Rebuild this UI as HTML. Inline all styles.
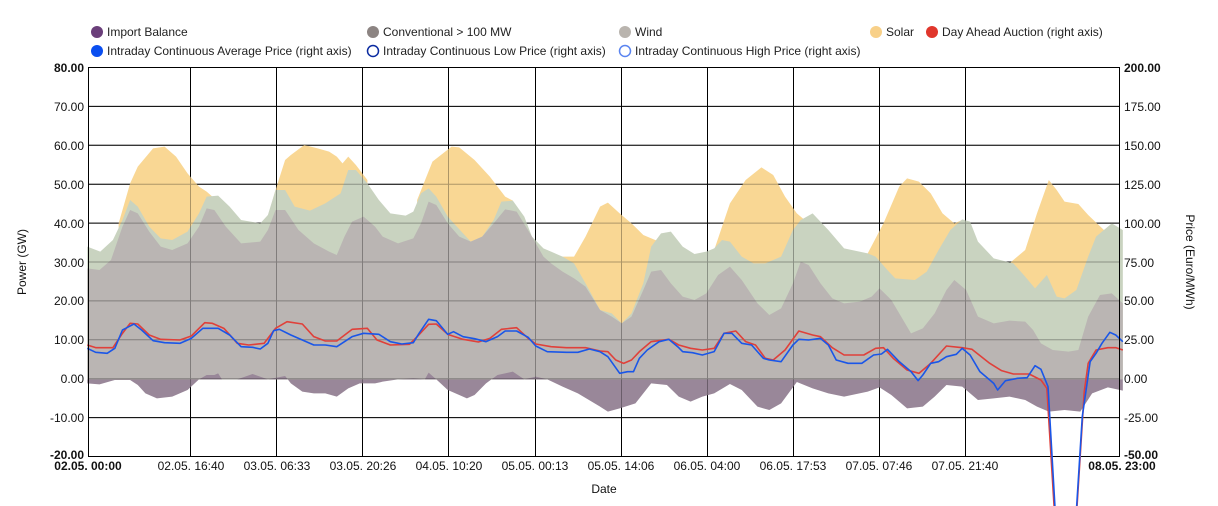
<!DOCTYPE html>
<html><head><meta charset="utf-8"><style>
body{margin:0;background:#fff;}
svg{display:block;font-family:"Liberation Sans",Arial,sans-serif;}
</style></head><body>
<svg width="1218" height="506" viewBox="0 0 1218 506" xmlns="http://www.w3.org/2000/svg">
<g font-size="12" fill="#222">
<circle cx="97" cy="32" r="6" fill="#6b3f7a"/><text x="107" y="36">Import Balance</text>
<circle cx="373" cy="32" r="6" fill="#8c8482"/><text x="383" y="36">Conventional &gt; 100 MW</text>
<circle cx="625" cy="32" r="6" fill="#b9b4ae"/><text x="635" y="36">Wind</text>
<circle cx="876" cy="32" r="6" fill="#f8d088"/><text x="886" y="36">Solar</text>
<circle cx="932" cy="32" r="6" fill="#e0362c"/><text x="942" y="36">Day Ahead Auction (right axis)</text>
<circle cx="97" cy="51" r="6" fill="#0a4ef0"/><text x="107" y="55">Intraday Continuous Average Price (right axis)</text>
<circle cx="373" cy="51" r="5.5" fill="none" stroke="#0a2aa0" stroke-width="1.5"/><text x="383" y="55">Intraday Continuous Low Price (right axis)</text>
<circle cx="625" cy="51" r="5.5" fill="none" stroke="#5a84f0" stroke-width="1.5"/><text x="635" y="55">Intraday Continuous High Price (right axis)</text>
</g>
<g stroke="#000" stroke-width="1">
<line x1="88" y1="67.5" x2="1120" y2="67.5"/><line x1="88" y1="106.4" x2="1120" y2="106.4"/><line x1="88" y1="145.3" x2="1120" y2="145.3"/><line x1="88" y1="184.2" x2="1120" y2="184.2"/><line x1="88" y1="223.1" x2="1120" y2="223.1"/><line x1="88" y1="262" x2="1120" y2="262"/><line x1="88" y1="300.9" x2="1120" y2="300.9"/><line x1="88" y1="339.8" x2="1120" y2="339.8"/><line x1="88" y1="378.7" x2="1120" y2="378.7"/><line x1="88" y1="417.6" x2="1120" y2="417.6"/><line x1="88" y1="456.5" x2="1120" y2="456.5"/>
<line x1="190.5" y1="67" x2="190.5" y2="457"/><line x1="276.5" y1="67" x2="276.5" y2="457"/><line x1="362.5" y1="67" x2="362.5" y2="457"/><line x1="448.5" y1="67" x2="448.5" y2="457"/><line x1="535.5" y1="67" x2="535.5" y2="457"/><line x1="621.5" y1="67" x2="621.5" y2="457"/><line x1="707.5" y1="67" x2="707.5" y2="457"/><line x1="793.5" y1="67" x2="793.5" y2="457"/><line x1="879.5" y1="67" x2="879.5" y2="457"/><line x1="965.5" y1="67" x2="965.5" y2="457"/>
</g>
<g transform="translate(0,50) scale(0.3827,0.33333)">
<polygon fill="#f9d794" points="310,520 340,400 360,350 400,295 430,290 460,320 490,370 520,410 540,425 560,445 560,988 310,988"/>
<polygon fill="#f9d794" points="700,500 720,420 745,330 760,315 795,285 830,295 860,305 880,320 895,340 910,320 930,345 960,390 960,988 700,988"/>
<polygon fill="#f9d794" points="1090,450 1130,335 1180,290 1200,292 1240,330 1280,380 1320,440 1340,452 1340,988 1090,988"/>
<polygon fill="#f9d794" points="1470,620 1500,620 1530,560 1568,470 1568,988 1470,988"/>
<polygon fill="#c9d3c0" points="228,590 262,605 295,570 320,510 340,450 360,470 390,530 420,565 450,570 490,545 520,490 540,440 570,437 600,470 630,510 680,520 700,495 720,420 745,420 770,470 810,482 850,460 890,430 910,360 930,360 960,400 990,450 1020,490 1060,497 1080,485 1100,430 1120,415 1140,440 1170,500 1210,550 1230,575 1260,560 1290,510 1310,455 1340,452 1370,500 1390,560 1420,595 1440,605 1470,620 1500,640 1530,700 1568,780 1568,988 228,988"/>
<polygon fill="#bab5b3" points="228,655 260,660 290,630 320,530 340,480 360,490 390,545 420,590 450,600 490,580 520,530 540,475 560,480 590,530 630,580 680,575 700,540 720,480 745,480 780,540 820,580 860,605 880,615 900,560 920,515 950,500 980,530 1000,560 1040,580 1080,565 1100,520 1120,455 1140,465 1170,520 1200,560 1230,575 1260,560 1290,520 1320,478 1350,485 1390,560 1420,620 1440,640 1470,665 1500,685 1530,710 1568,780 1568,988 228,988"/>
<polygon fill="#998799" points="228,1000 260,1003 300,990 340,990 360,1005 380,1030 410,1045 450,1040 490,1020 520,988 540,975 560,975 570,970 580,988 620,988 660,972 700,988 745,978 760,1000 790,1025 820,1030 850,1030 880,1040 910,1015 940,1000 980,1000 1000,995 1040,988 1080,985 1110,988 1120,968 1140,988 1170,1020 1200,1035 1220,1045 1240,1035 1270,1000 1300,975 1340,965 1370,988 1400,980 1430,988 1470,1010 1510,1030 1568,1070 1568,988 228,988"/>
</g>
<g transform="translate(600,50) scale(0.3937,0.33333)">
<polygon fill="#f9d794" points="0,470 20,458 50,490 80,520 110,555 150,575 165,560 165,988 0,988"/>
<polygon fill="#f9d794" points="290,600 330,460 370,390 410,352 440,375 470,440 500,490 520,510 520,988 290,988"/>
<polygon fill="#f9d794" points="680,610 720,520 760,410 780,385 810,395 840,430 870,490 900,520 920,510 920,988 680,988"/>
<polygon fill="#f9d794" points="1040,640 1080,600 1110,490 1140,390 1160,420 1180,455 1215,462 1240,495 1280,540 1300,530 1300,988 1040,988"/>
<polygon fill="#c9d3c0" points="0,780 30,790 55,820 80,790 110,700 130,590 155,550 180,545 210,590 240,612 270,605 290,595 310,570 330,575 360,620 390,640 420,640 460,620 490,540 510,510 540,490 580,540 620,595 680,610 700,620 730,660 750,685 800,690 830,665 860,600 890,540 920,508 940,515 960,575 1000,625 1050,640 1080,680 1105,715 1135,675 1160,740 1180,745 1210,720 1240,620 1260,560 1300,520 1328,540 1328,988 0,988"/>
<polygon fill="#bab5b3" points="0,780 30,800 55,820 80,800 110,720 130,665 155,660 180,700 210,740 240,750 270,730 300,675 330,650 360,690 400,760 430,795 460,775 490,700 510,635 530,645 560,700 590,745 620,760 660,755 690,740 710,715 740,750 770,810 790,850 820,835 850,790 880,720 900,690 930,720 960,800 1000,820 1040,812 1080,815 1100,840 1120,880 1150,900 1190,905 1215,900 1240,800 1270,735 1300,730 1328,760 1328,988 0,988"/>
<polygon fill="#998799" points="0,1070 20,1085 50,1075 90,1060 130,1000 170,1005 200,1040 230,1055 260,1040 290,1030 330,1002 360,1020 400,1070 430,1080 460,1060 500,996 540,1015 580,1030 620,1040 680,1025 710,1012 740,1035 780,1075 820,1070 850,1040 880,1005 920,1010 960,1050 1000,1045 1040,1040 1080,1050 1110,1070 1140,1085 1180,1080 1220,1085 1250,1030 1290,1012 1328,1022 1328,988 0,988"/>
</g>
<g stroke="#000" stroke-width="1" opacity="0.3">
<line x1="88" y1="106.4" x2="1120" y2="106.4"/><line x1="88" y1="145.3" x2="1120" y2="145.3"/><line x1="88" y1="184.2" x2="1120" y2="184.2"/><line x1="88" y1="223.1" x2="1120" y2="223.1"/><line x1="88" y1="262" x2="1120" y2="262"/><line x1="88" y1="300.9" x2="1120" y2="300.9"/><line x1="88" y1="339.8" x2="1120" y2="339.8"/><line x1="88" y1="378.7" x2="1120" y2="378.7"/><line x1="88" y1="417.6" x2="1120" y2="417.6"/>
<line x1="190.5" y1="67" x2="190.5" y2="457"/><line x1="276.5" y1="67" x2="276.5" y2="457"/><line x1="362.5" y1="67" x2="362.5" y2="457"/><line x1="448.5" y1="67" x2="448.5" y2="457"/><line x1="535.5" y1="67" x2="535.5" y2="457"/><line x1="621.5" y1="67" x2="621.5" y2="457"/><line x1="707.5" y1="67" x2="707.5" y2="457"/><line x1="793.5" y1="67" x2="793.5" y2="457"/><line x1="879.5" y1="67" x2="879.5" y2="457"/><line x1="965.5" y1="67" x2="965.5" y2="457"/>
</g>
<g fill="none" stroke-width="1.6" stroke-linejoin="round">
<g transform="translate(0,50) scale(0.3827,0.33333)">
<polyline vector-effect="non-scaling-stroke" stroke="#e0403a" points="228,885 250,893 295,893 320,850 340,820 360,822 390,855 420,868 470,870 500,858 535,818 555,820 585,835 620,880 650,885 690,880 720,835 750,815 790,822 820,860 850,873 880,873 920,838 960,835 985,870 1020,885 1070,883 1090,860 1120,823 1140,822 1170,853 1210,868 1250,876 1280,865 1310,838 1350,833 1380,865 1400,882 1440,890 1480,893 1530,893 1568,903"/>
<polyline vector-effect="non-scaling-stroke" stroke="#1a56e8" points="228,895 250,907 280,910 300,895 320,840 350,822 370,840 400,872 430,878 470,880 500,865 530,835 570,835 600,855 630,890 660,892 680,897 700,880 715,842 730,838 760,855 790,870 820,885 850,885 880,890 920,860 950,850 990,853 1020,875 1050,882 1080,878 1095,850 1120,808 1140,812 1170,853 1185,845 1210,860 1240,866 1270,875 1300,860 1320,843 1350,843 1380,862 1400,888 1430,905 1480,907 1510,907 1540,897 1568,905"/>
</g>
<g transform="translate(600,50) scale(0.3937,0.33333)">
<polyline vector-effect="non-scaling-stroke" stroke="#e0403a" points="0,903 20,905 40,930 60,940 80,930 100,905 130,875 175,868 200,885 230,895 260,900 290,895 315,850 345,843 370,875 395,885 420,925 440,930 470,900 505,843 540,855 560,860 590,893 620,915 670,915 700,895 720,893 745,925 780,960 810,970 840,940 880,888 920,893 945,898 990,940 1020,962 1050,972 1090,972 1120,990 1135,1015 1155,1400 1210,1400 1230,1025 1240,940 1260,900 1290,893 1310,893 1328,900"/>
<polyline vector-effect="non-scaling-stroke" stroke="#1a56e8" points="0,905 20,920 50,970 70,965 85,965 100,925 120,900 150,875 175,868 200,893 210,905 235,908 260,915 290,905 315,850 335,850 360,880 385,885 415,925 430,930 460,935 490,885 505,868 530,870 560,865 580,885 600,930 630,940 665,940 695,915 715,912 730,898 760,935 790,965 808,992 820,975 840,940 860,935 880,920 905,913 920,895 940,915 965,965 1000,1000 1010,1020 1030,992 1060,985 1085,983 1105,947 1120,958 1138,1010 1158,1420 1208,1420 1225,1100 1245,935 1260,910 1275,880 1295,847 1310,855 1328,875"/>
</g>
</g>
<g stroke="#000" stroke-width="1"><line x1="88.5" y1="67" x2="88.5" y2="457"/><line x1="1119.5" y1="67" x2="1119.5" y2="457"/></g>
<g font-size="12" fill="#111" text-anchor="end">
<text x="84" y="72" font-weight="bold">80.00</text><text x="84" y="111">70.00</text><text x="84" y="150">60.00</text><text x="84" y="189">50.00</text><text x="84" y="228">40.00</text><text x="84" y="267">30.00</text><text x="84" y="305">20.00</text><text x="84" y="344">10.00</text><text x="84" y="383">0.00</text><text x="84" y="422">-10.00</text><text x="84" y="459" font-weight="bold">-20.00</text>
</g>
<g font-size="12" fill="#111">
<text x="1124" y="72" font-weight="bold">200.00</text><text x="1124" y="111">175.00</text><text x="1124" y="150">150.00</text><text x="1124" y="189">125.00</text><text x="1124" y="228">100.00</text><text x="1124" y="267">75.00</text><text x="1124" y="305">50.00</text><text x="1124" y="344">25.00</text><text x="1124" y="383">0.00</text><text x="1124" y="422">-25.00</text><text x="1124" y="459" font-weight="bold">-50.00</text>
</g>
<g font-size="12" fill="#111" text-anchor="middle">
<text x="88" y="470" font-weight="bold">02.05. 00:00</text><text x="191" y="470">02.05. 16:40</text><text x="277" y="470">03.05. 06:33</text><text x="363" y="470">03.05. 20:26</text><text x="449" y="470">04.05. 10:20</text><text x="535" y="470">05.05. 00:13</text><text x="621" y="470">05.05. 14:06</text><text x="707" y="470">06.05. 04:00</text><text x="793" y="470">06.05. 17:53</text><text x="879" y="470">07.05. 07:46</text><text x="965" y="470">07.05. 21:40</text><text x="1122" y="470" font-weight="bold">08.05. 23:00</text>
<text x="604" y="493">Date</text>
<text transform="translate(26,262) rotate(-90)">Power (GW)</text>
<text transform="translate(1186,262) rotate(90)">Price (Euro/MWh)</text>
</g>
</svg>
</body></html>
